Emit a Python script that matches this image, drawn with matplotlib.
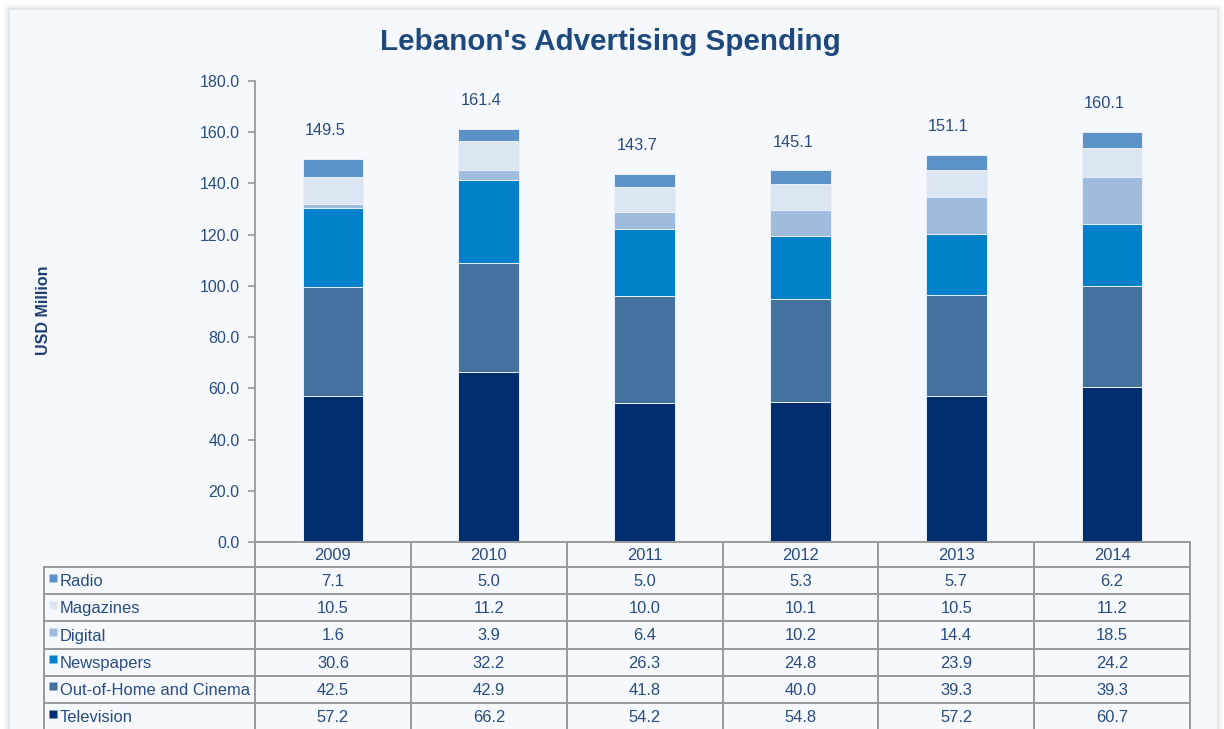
import matplotlib
matplotlib.use("Agg")
import matplotlib.pyplot as plt
from matplotlib.patches import Rectangle

plt.rcParams["font.family"] = ["Liberation Sans", "DejaVu Sans"]

# --- data: Lebanon ad spend by medium, USD million ---
years = ["2009", "2010", "2011", "2012", "2013", "2014"]
television = [57.2, 66.2, 54.2, 54.8, 57.2, 60.7]
out_of_home = [42.5, 42.9, 41.8, 40.0, 39.3, 39.3]
newspapers = [30.6, 32.2, 26.3, 24.8, 23.9, 24.2]
digital = [1.6, 3.9, 6.4, 10.2, 14.4, 18.5]
magazines = [10.5, 11.2, 10.0, 10.1, 10.5, 11.2]
radio = [7.1, 5.0, 5.0, 5.3, 5.7, 6.2]
totals = [149.5, 161.4, 143.7, 145.1, 151.1, 160.1]

# bottom -> top stacking order
series = [
    ("Television", television, "#002e6e"),
    ("Out-of-Home and Cinema", out_of_home, "#44729f"),
    ("Newspapers", newspapers, "#0080c8"),
    ("Digital", digital, "#9fbcde"),
    ("Magazines", magazines, "#dce6f2"),
    ("Radio", radio, "#5b93c8"),
]

TXT = "#294b7f"
GRID = "#999999"
W, H = 1224, 729

fig = plt.figure(figsize=(W / 100, H / 100), dpi=100, facecolor="white")

# card background with a soft shadow (kept behind the axes)
for i, a in enumerate([0.025, 0.03, 0.04]):
    d = 6 - 2 * i
    fig.add_artist(Rectangle(((10 - d) / W, 0), (1207 + 2 * d) / W, (719 + d) / H,
                             transform=fig.transFigure, fc="black", alpha=a,
                             ec="none", zorder=-10))
fig.add_artist(Rectangle((10 / W, 0), 1207 / W, 719 / H, transform=fig.transFigure,
                         fc="#f5f9fd", ec="none", zorder=-9))

fig.text(610 / W, 1 - 42 / H, "Lebanon's Advertising Spending", ha="center",
         va="center", fontsize=21.3, fontweight="bold", color="#1f497d")
fig.text(43 / W, 1 - 310 / H, "USD Million", rotation=90, ha="center", va="center",
         fontsize=11.5, fontweight="bold", color="#1f3f73")

# --- bar chart ---
x0, x1, ytop, ybot = 255, 1190, 81, 542
ax = fig.add_axes([x0 / W, 1 - ybot / H, (x1 - x0) / W, (ybot - ytop) / H])
ax.patch.set_alpha(0)
xs = list(range(len(years)))
bottom = [0.0] * len(years)
for name, vals, col in series:
    ax.bar(xs, vals, width=0.39, bottom=bottom, color=col, edgecolor="#e9f0f8",
           linewidth=0.7, zorder=2)
    bottom = [b + v for b, v in zip(bottom, vals)]
for x, t in zip(xs, totals):
    ax.text(x - 0.05, t + 11, f"{t:.1f}", ha="center", va="center",
            fontsize=11.8, color=TXT)

ax.set_xlim(-0.5, len(years) - 0.5)
ax.set_ylim(0, 180)
ax.set_yticks(range(0, 181, 20))
ax.set_yticklabels([f"{v:.1f}" for v in range(0, 181, 20)])
ax.tick_params(axis="y", colors=GRID, labelcolor=TXT, labelsize=11.5, length=5,
               width=1.2, pad=6)
ax.set_xticks([])
for s in ("top", "right", "bottom"):
    ax.spines[s].set_visible(False)
ax.spines["left"].set_color(GRID)
ax.spines["left"].set_linewidth(1.3)

# --- data table underneath, sharing the bar x scale ---
unit = (x1 - x0) / len(years)
xl = -0.5 - (x0 - 44) / unit
tax = fig.add_axes([44 / W, 0, (x1 - 44) / W, (H - ybot) / H])
tax.set_xlim(xl, len(years) - 0.5)
tax.set_ylim(H - ybot, 0)
tax.axis("off")

head_h, row_h = 25, 27.2
rows = list(reversed(series))
lk = dict(color=GRID, lw=1.4, clip_on=False)
tax.plot([-0.5, len(years) - 0.5], [0, 0], **lk)
tax.plot([xl, len(years) - 0.5], [head_h, head_h], **lk)
for r in range(1, len(rows) + 1):
    y = head_h + r * row_h
    tax.plot([xl, len(years) - 0.5], [y, y], **lk)
for k in range(len(years) + 1):
    tax.plot([k - 0.5, k - 0.5], [0, H - ybot + 5], **lk)
tax.plot([xl, xl], [head_h, H - ybot + 5], **lk)

FS = 11.9
for x, yr in zip(xs, years):
    tax.text(x, head_h / 2 + 1, yr, ha="center", va="center", fontsize=FS, color=TXT)
for r, (name, vals, col) in enumerate(rows):
    yc = head_h + (r + 0.5) * row_h
    tax.plot([xl + 8.5 / unit], [yc - 3], marker="s", ms=5.6, color=col,
             mec="none", clip_on=False)
    tax.text(xl + 16 / unit, yc + 1, name, ha="left", va="center", fontsize=FS,
             color=TXT)
    for x, v in zip(xs, vals):
        tax.text(x, yc + 1, f"{v:.1f}", ha="center", va="center", fontsize=FS,
                 color=TXT)

fig.savefig("out.png", dpi=100, facecolor=fig.get_facecolor())
